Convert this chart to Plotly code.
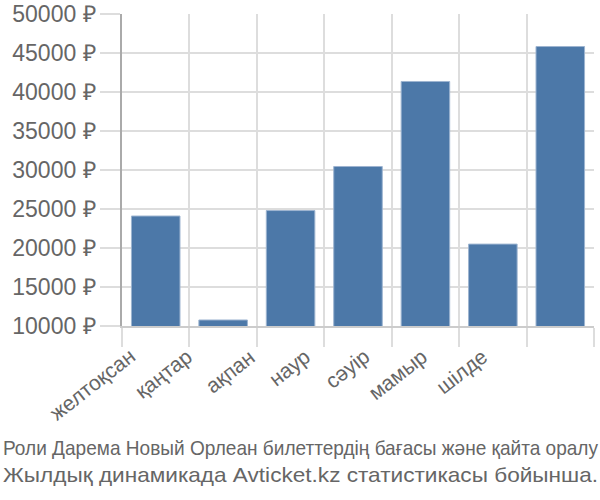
import plotly.graph_objects as go

months = ["желтоқсан", "қаңтар", "ақпан", "наур", "сәуір", "мамыр", "шілде"]
prices = [24100, 10770, 24800, 30450, 41350, 20500, 45830]
y_ticks = [10000, 15000, 20000, 25000, 30000, 35000, 40000, 45000, 50000]
y_labels = [f"{v} ₽" for v in y_ticks]
title_line1 = "Роли Дарема Новый Орлеан билеттердің бағасы және қайта оралу"
title_line2 = "Жылдық динамикада Avticket.kz статистикасы бойынша."

# horizontal pixel offsets of the rotated month labels (layout only)
label_shift = [-14, -24, -29, -41, -49, -59, -66]

fig = go.Figure()
fig.add_trace(go.Bar(
    x=months, y=prices,
    marker=dict(color="#4c78a8", line=dict(color="#9db4d0", width=1)),
    width=0.72,
))

fig.update_layout(
    width=600, height=500,
    margin=dict(l=122, r=6, t=14, b=174, autoexpand=False),
    plot_bgcolor="white", paper_bgcolor="white",
    showlegend=False,
    font=dict(family="Liberation Sans, Arial, sans-serif", color="#666666", size=22),
)
fig.update_xaxes(
    range=[-0.5, 6.5],
    automargin=False,
    tickson="boundaries",
    showgrid=True, gridcolor="#dddddd", gridwidth=1.5,
    ticks="outside", ticklen=19, tickcolor="#dddddd", tickwidth=1.5,
    showticklabels=False,
    showline=True, linecolor="#cccccc", linewidth=1.5,
)
fig.update_yaxes(
    range=[10000, 50000],
    automargin=False,
    tickvals=y_ticks, ticktext=y_labels,
    showgrid=True, gridcolor="#dddddd", gridwidth=1.5,
    ticks="outside", ticklen=20, tickcolor="#dddddd", tickwidth=1.5,
    tickfont=dict(size=23, color="#666666"),
    showline=True, linecolor="#aaaaaa", linewidth=1.5,
    zeroline=False,
)

for m, dx in zip(months, label_shift):
    fig.add_annotation(
        text=m, x=m, xref="x", y=0, yref="paper",
        xanchor="right", yanchor="top", yshift=-16, xshift=dx,
        textangle=-38, showarrow=False,
        font=dict(family="Liberation Sans, sans-serif", size=21, color="#666666"),
    )

fig.add_annotation(
    text=title_line1, xref="paper", yref="paper",
    x=-122/472, y=-(447-326)/312, xanchor="left", yanchor="middle",
    showarrow=False, name="title",
    font=dict(family="Liberation Sans, sans-serif", size=21, color="#666666"),
)
fig.add_annotation(
    text=title_line2, xref="paper", yref="paper",
    x=-122/472, y=-(474-326)/312, xanchor="left", yanchor="middle",
    showarrow=False, name="title",
    font=dict(family="Liberation Sans, sans-serif", size=21, color="#666666"),
)

post = """
document.body.style.margin = '0px';
var gd = document.getElementById('{plot_id}');
gd.querySelectorAll('.annotation-text').forEach(function(el){
  var t = el.textContent;
  if (t.indexOf('Роли') !== 0 && t.indexOf('Жылдық') !== 0) return;
  el.setAttribute('textLength', '595');
  el.setAttribute('lengthAdjust', 'spacingAndGlyphs');
  var r = el.getBoundingClientRect();
  var gr = gd.getBoundingClientRect();
  var dx = 3 - (r.left - gr.left);
  el.setAttribute('transform', 'translate(' + dx + ',0)');
});
"""
fig.write_html("out.html", post_script=post, config={"displayModeBar": False})
